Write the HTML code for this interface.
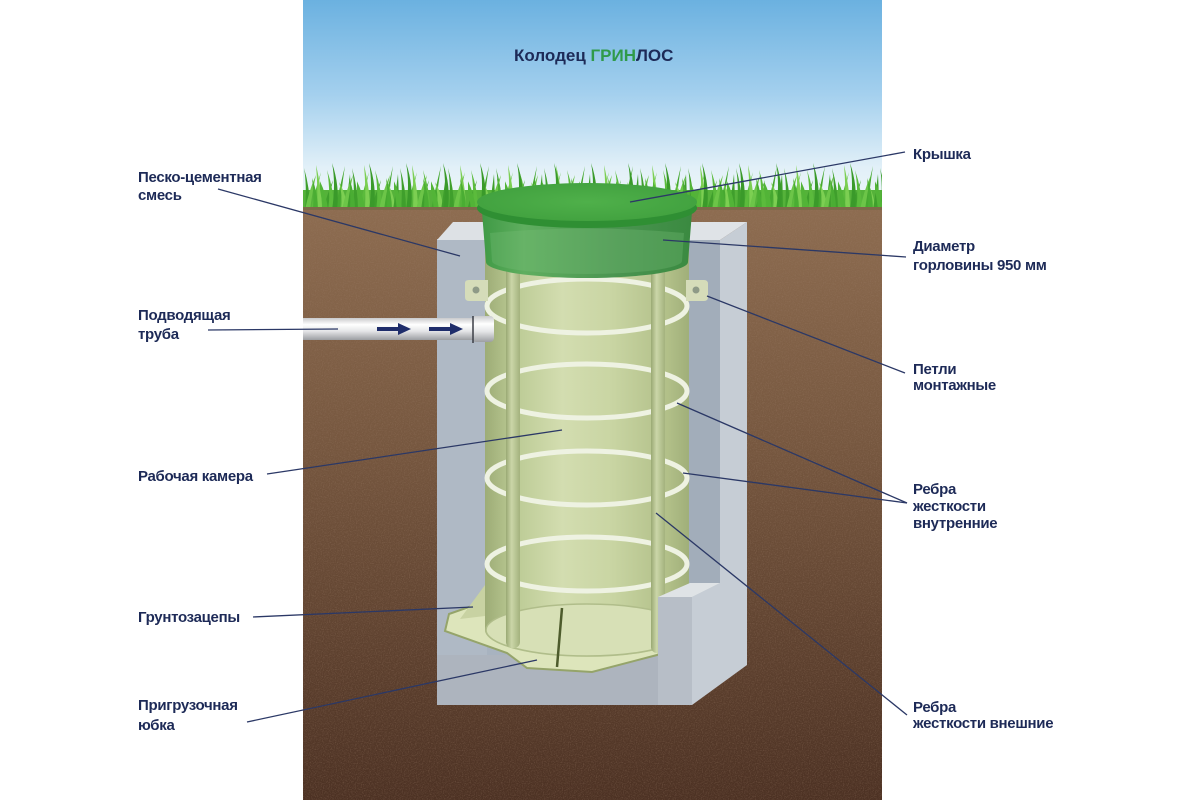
<!DOCTYPE html>
<html><head><meta charset="utf-8">
<style>
html,body{margin:0;padding:0;background:#fff;}
svg{display:block}
text{font-family:"Liberation Sans","DejaVu Sans",sans-serif;font-weight:bold;font-size:15px;fill:#1d2a57;letter-spacing:-0.3px;}
</style></head><body>
<svg width="1200" height="800" viewBox="0 0 1200 800" xmlns="http://www.w3.org/2000/svg">
<defs>
  <linearGradient id="sky" x1="0" y1="0" x2="0" y2="1">
    <stop offset="0" stop-color="#6bb1e0"/>
    <stop offset="0.45" stop-color="#a4d0ee"/>
    <stop offset="0.8" stop-color="#e2f0f8"/>
    <stop offset="1" stop-color="#f0f7fa"/>
  </linearGradient>
  <linearGradient id="soil" x1="0" y1="0" x2="0" y2="1">
    <stop offset="0" stop-color="#8d6c50"/>
    <stop offset="0.4" stop-color="#76573f"/>
    <stop offset="1" stop-color="#4c3123"/>
  </linearGradient>
  <linearGradient id="cyl" x1="0" y1="0" x2="1" y2="0">
    <stop offset="0" stop-color="#9dac76"/>
    <stop offset="0.15" stop-color="#bccb95"/>
    <stop offset="0.38" stop-color="#d3ddb0"/>
    <stop offset="0.62" stop-color="#c9d5a3"/>
    <stop offset="0.9" stop-color="#b1bf88"/>
    <stop offset="1" stop-color="#a0af79"/>
  </linearGradient>
  <linearGradient id="rod" x1="0" y1="0" x2="1" y2="0">
    <stop offset="0" stop-color="#9aa974"/>
    <stop offset="0.4" stop-color="#cbd6a8"/>
    <stop offset="1" stop-color="#a3b27d"/>
  </linearGradient>
  <linearGradient id="lidside" x1="0" y1="0" x2="1" y2="0">
    <stop offset="0" stop-color="#3f9a45"/>
    <stop offset="0.2" stop-color="#5fae5f"/>
    <stop offset="0.65" stop-color="#4a9450"/>
    <stop offset="1" stop-color="#3a8a40"/>
  </linearGradient>
  <radialGradient id="lidtop" cx="0.5" cy="0.5" r="0.6">
    <stop offset="0" stop-color="#4fb04a"/>
    <stop offset="1" stop-color="#40a03e"/>
  </radialGradient>
  <linearGradient id="pipe" x1="0" y1="0" x2="0" y2="1">
    <stop offset="0" stop-color="#c9cacc"/>
    <stop offset="0.3" stop-color="#ffffff"/>
    <stop offset="0.6" stop-color="#e4e5e7"/>
    <stop offset="1" stop-color="#9c9ea2"/>
  </linearGradient>
  <filter id="noise" x="0" y="0" width="100%" height="100%">
    <feTurbulence type="fractalNoise" baseFrequency="0.85" numOctaves="2" seed="4" result="t"/>
    <feColorMatrix in="t" type="matrix" values="0 0 0 0 0.35  0 0 0 0 0.22  0 0 0 0 0.15  0 0 0 -2.2 1.25"/>
  </filter>
  <pattern id="grass1" patternUnits="userSpaceOnUse" x="303" y="160" width="48" height="50">
    <path d="M2,50 Q4,25 1,8 Q7,28 7,50Z" fill="#3f9f2c"/>
    <path d="M8,50 Q12,30 18,12 Q13,32 13,50Z" fill="#5bbb3c"/>
    <path d="M14,50 Q15,28 13,5 Q19,30 19,50Z" fill="#7ccf52"/>
    <path d="M20,50 Q24,35 30,20 Q26,38 25,50Z" fill="#3f9f2c"/>
    <path d="M26,50 Q27,25 24,10 Q31,30 31,50Z" fill="#5bbb3c"/>
    <path d="M32,50 Q36,30 42,6 Q38,32 37,50Z" fill="#46a830"/>
    <path d="M38,50 Q40,35 36,22 Q44,36 44,50Z" fill="#7ccf52"/>
    <path d="M42,50 Q45,30 47,14 Q48,35 48,50Z" fill="#3f9f2c"/>
  </pattern>
  <pattern id="grass2" patternUnits="userSpaceOnUse" x="320" y="160" width="37" height="50">
    <path d="M3,50 Q1,30 -4,14 Q6,30 8,50Z" fill="#52b437"/>
    <path d="M12,50 Q16,24 12,3 Q20,26 17,50Z" fill="#3a9a2a"/>
    <path d="M22,50 Q26,30 33,15 Q29,34 27,50Z" fill="#6cc548"/>
    <path d="M30,50 Q31,32 29,18 Q35,34 35,50Z" fill="#4aad33"/>
  </pattern>
  <clipPath id="panel"><rect x="303" y="0" width="579" height="800"/></clipPath>
</defs>

<rect width="1200" height="800" fill="#ffffff"/>

<g clip-path="url(#panel)">
  <rect x="303" y="0" width="579" height="210" fill="url(#sky)"/>
  <rect x="303" y="207" width="579" height="593" fill="url(#soil)"/>
  <rect x="303" y="207" width="579" height="593" filter="url(#noise)" opacity="0.35"/>
  <rect x="303" y="190" width="579" height="19" fill="#55b23a"/>
  <rect x="303" y="160" width="579" height="50" fill="url(#grass1)"/>
  <rect x="303" y="160" width="579" height="50" fill="url(#grass2)"/>
  <rect x="303" y="207" width="579" height="3" fill="#7d6a48"/>
</g>

<!-- concrete -->
<polygon points="437,239 720,239 720,597 692,597 692,705 437,705" fill="#a8b3c0"/>
<rect x="437" y="239" width="50" height="466" fill="#afb9c5"/>
<polygon points="437,240 453,222 490,222 490,240" fill="#dde1e5"/>
<rect x="437" y="655" width="221" height="50" fill="#adb4be"/>
<!-- right upper block -->
<rect x="688" y="240" width="32" height="343" fill="#a2adba"/>
<polygon points="689,222 747,222 720,240 689,240" fill="#dfe3e7"/>

<!-- plate / skirt -->
<polygon points="449,614 472,606 485,600 688,600 688,640 657,655 592,672 527,668 507,653 445,631" fill="#dde5bb" stroke="#95a46a" stroke-width="2"/>
<polygon points="460,619 485,585 485,616" fill="#c8d2a2"/>

<!-- cylinder -->
<path d="M485,250 L485,630 A102,27 0 0 0 689,630 L689,250 Z" fill="url(#cyl)"/>
<ellipse cx="587" cy="630" rx="101" ry="26" fill="#d7e0b6" stroke="#b0bd8a" stroke-width="1.5"/>
<line x1="562" y1="608" x2="557" y2="667" stroke="#4d5b2c" stroke-width="2.5"/>

<!-- rings -->
<g fill="none" stroke="#eef2e2" stroke-width="5">
  <ellipse cx="587" cy="306" rx="100" ry="27"/>
  <ellipse cx="587" cy="391" rx="100" ry="27"/>
  <ellipse cx="587" cy="478" rx="100" ry="27"/>
  <ellipse cx="587" cy="564" rx="100" ry="27"/>
</g>

<!-- rods -->
<rect x="506" y="255" width="14" height="393" rx="6" fill="url(#rod)"/>
<rect x="651" y="255" width="14" height="398" rx="6" fill="url(#rod)"/>

<!-- right side face & lower block -->
<polygon points="720,240 747,222 747,665 692,705 692,597 720,583" fill="#c6cdd5"/>
<polygon points="658,597 690,583 720,583 692,597" fill="#dfe3e6"/>
<rect x="658" y="597" width="34" height="108" fill="#b7bec7"/>

<!-- lugs -->
<path d="M465,283 Q465,280 469,280 L488,280 L488,301 L469,301 Q465,301 465,297 Z" fill="#d5dcb9"/>
<circle cx="476" cy="290" r="3.5" fill="#8e9a87"/>
<path d="M686,280 L704,280 Q708,280 708,284 L708,297 Q708,301 704,301 L686,301 Z" fill="#d5dcb9"/>
<circle cx="696" cy="290" r="3.5" fill="#8e9a87"/>

<!-- lid -->
<path d="M482,212 L486,262 A101,16 0 0 0 688,262 L692,212 Z" fill="url(#lidside)"/>
<path d="M490,233 Q587,224 684,233 L682,261 A95,13 0 0 1 492,261 Z" fill="#7cc07a" opacity="0.3"/>
<ellipse cx="587" cy="208" rx="110" ry="20" fill="#2f8f33"/>
<ellipse cx="587" cy="202" rx="110" ry="19" fill="url(#lidtop)"/>

<!-- pipe -->
<rect x="303" y="318" width="172" height="22" fill="url(#pipe)"/>
<rect x="472" y="316" width="22" height="26" rx="4" fill="url(#pipe)"/>
<line x1="473" y1="316" x2="473" y2="343" stroke="#3a3d45" stroke-width="1.5"/>
<line x1="377" y1="329" x2="400" y2="329" stroke="#1f2d6b" stroke-width="4"/>
<polygon points="398,323 411,329 398,335" fill="#1f2d6b"/>
<line x1="429" y1="329" x2="452" y2="329" stroke="#1f2d6b" stroke-width="4"/>
<polygon points="450,323 463,329 450,335" fill="#1f2d6b"/>

<!-- leader lines -->
<g stroke="#2b3866" stroke-width="1.3" fill="none">
  <line x1="218" y1="189" x2="460" y2="256"/>
  <line x1="208" y1="330" x2="338" y2="329"/>
  <line x1="267" y1="474" x2="562" y2="430"/>
  <line x1="253" y1="617" x2="473" y2="607"/>
  <line x1="247" y1="722" x2="537" y2="660"/>
  <line x1="905" y1="152" x2="630" y2="202"/>
  <line x1="906" y1="257" x2="663" y2="240"/>
  <line x1="905" y1="373" x2="707" y2="296"/>
  <line x1="907" y1="503" x2="677" y2="403"/>
  <line x1="907" y1="503" x2="683" y2="473"/>
  <line x1="907" y1="715" x2="656" y2="513"/>
</g>

<!-- title -->
<text x="514" y="61" style="font-size:17px;letter-spacing:0">Колодец <tspan fill="#2f9a4a">ГРИН</tspan>ЛОС</text>

<!-- left labels -->
<text x="138" y="182">Песко-цементная</text>
<text x="138" y="200">смесь</text>
<text x="138" y="320">Подводящая</text>
<text x="138" y="339">труба</text>
<text x="138" y="481">Рабочая камера</text>
<text x="138" y="622">Грунтозацепы</text>
<text x="138" y="710">Пригрузочная</text>
<text x="138" y="730">юбка</text>

<!-- right labels -->
<text x="913" y="159">Крышка</text>
<text x="913" y="251">Диаметр</text>
<text x="913" y="270">горловины 950 мм</text>
<text x="913" y="374">Петли</text>
<text x="913" y="390">монтажные</text>
<text x="913" y="494">Ребра</text>
<text x="913" y="511">жесткости</text>
<text x="913" y="528">внутренние</text>
<text x="913" y="712">Ребра</text>
<text x="913" y="728">жесткости внешние</text>
</svg>
</body></html>
